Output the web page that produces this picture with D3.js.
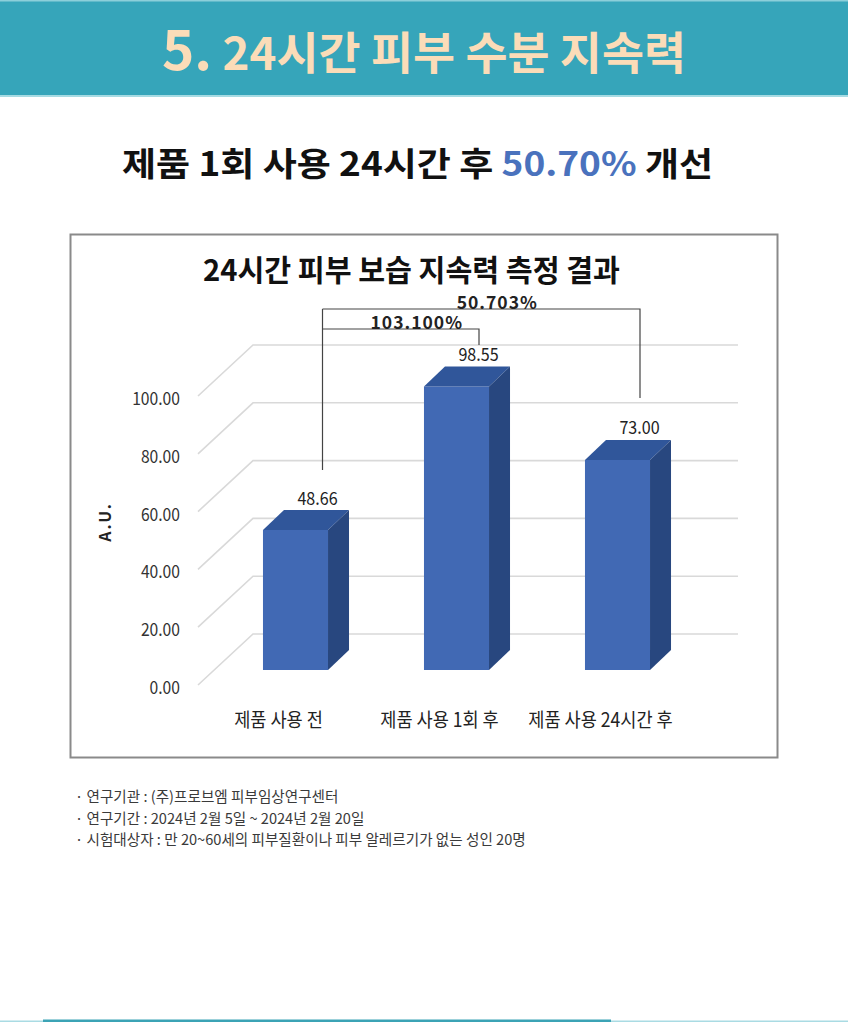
<!DOCTYPE html>
<html>
<head>
<meta charset="utf-8">
<script src="https://cdn.jsdelivr.net/npm/d3@7"></script>
<style>
  html, body { margin: 0; padding: 0; background: #fff; }
  svg { display: block; }
  text { font-family: "Noto Sans CJK KR", "Noto Sans", sans-serif; }
</style>
</head>
<body>
<svg id="chart" width="848" height="1022"></svg>
<script>
// ---------------- data ----------------
const categories = ["제품 사용 전", "제품 사용 1회 후", "제품 사용 24시간 후"];
const values = [48.66, 98.55, 73.00];
const yTicks = [0, 20, 40, 60, 80, 100];
const comparisonTargets = [1, 2];
const comparisonLabels = ["103.100%", "50.703%"];
const headerNumber = "5.";
const headerTitle = " 24시간 피부 수분 지속력";
const subtitleParts = ["제품 1회 사용 24시간 후 ", "50.70%", " 개선"];
const chartTitle = "24시간 피부 보습 지속력 측정 결과";
const yAxisTitle = "A.U.";
const footnotes = [
  "· 연구기관 : (주)프로브엠 피부임상연구센터",
  "· 연구기간 : 2024년 2월 5일 ~ 2024년 2월 20일",
  "· 시험대상자 : 만 20~60세의 피부질환이나 피부 알레르기가 없는 성인 20명"
];

// ---------------- helpers ----------------
function condense(sel, factor) {
  sel.each(function () {
    const w = this.getComputedTextLength();
    d3.select(this).attr("textLength", w * factor).attr("lengthAdjust", "spacingAndGlyphs");
  });
}

const svg = d3.select("#chart");

// ---------------- header band ----------------
svg.append("rect").attr("x", 0).attr("y", 0).attr("width", 848).attr("height", 96).attr("fill", "#36a5ba");
svg.append("rect").attr("x", 0).attr("y", 0).attr("width", 848).attr("height", 1.5).attr("fill", "#8ccfda");
svg.append("rect").attr("x", 0).attr("y", 95).attr("width", 848).attr("height", 2).attr("fill", "#a6dbe3");

const ht = svg.append("text")
  .attr("x", 424).attr("y", 70)
  .attr("text-anchor", "middle")
  .attr("fill", "#fbdcb8")
  .attr("font-weight", 700);
ht.append("tspan").attr("font-size", 54).text(headerNumber);
ht.append("tspan").attr("font-size", 45).text(headerTitle);
ht.attr("textLength", 524).attr("lengthAdjust", "spacingAndGlyphs");

// ---------------- subtitle ----------------
const st = svg.append("text")
  .attr("x", 417.5).attr("y", 176)
  .attr("text-anchor", "middle")
  .attr("font-size", 33)
  .attr("font-weight", 700)
  .attr("fill", "#111");
subtitleParts.forEach((p, i) => {
  st.append("tspan").attr("fill", i === 1 ? "#4a72bd" : "#111").text(p);
});
st.attr("textLength", 591).attr("lengthAdjust", "spacingAndGlyphs");

// ---------------- chart frame ----------------
svg.append("rect")
  .attr("x", 70.5).attr("y", 234.5).attr("width", 707).attr("height", 523)
  .attr("fill", "#fff").attr("stroke", "#8a8a8a").attr("stroke-width", 2);

svg.append("text")
  .attr("x", 411.5).attr("y", 281)
  .attr("text-anchor", "middle")
  .attr("font-size", 30)
  .attr("font-weight", 700)
  .attr("fill", "#111")
  .attr("textLength", 417).attr("lengthAdjust", "spacingAndGlyphs")
  .text(chartTitle);

// ---------------- scales ----------------
const x = d3.scaleBand().domain(categories).range([215, 698]).paddingInner(0.596).paddingOuter(0.298);
const yFront = d3.scaleLinear().domain([0, 100]).range([670, 382.3]);
const yBack = d3.scaleLinear().domain([0, 100]).range([634, 345]);
const depthX = 21, depthY = 20;
const wallLeft = 253, wallRight = 738, sideLeft = 198, sideDrop = 51;

// gridlines (back wall + side wall)
const grid = svg.append("g");
grid.selectAll("path").data(yTicks).join("path")
  .attr("d", t => `M${sideLeft},${yBack(t) + sideDrop}L${wallLeft},${yBack(t)}L${wallRight},${yBack(t)}`)
  .attr("fill", "none").attr("stroke", "#d9d9d9").attr("stroke-width", 1.6);

// y tick labels
const fmt = d3.format(".2f");
const yl = svg.append("g").selectAll("text").data(yTicks).join("text")
  .attr("x", 180).attr("y", t => yBack(t) + sideDrop + 1)
  .attr("text-anchor", "end")
  .attr("dominant-baseline", "central")
  .attr("font-size", 18)
  .attr("fill", "#333")
  .text(fmt);
condense(yl, 0.87);

// y axis title
svg.append("text")
  .attr("transform", "translate(104,522) rotate(-90)")
  .attr("text-anchor", "middle")
  .attr("dominant-baseline", "central")
  .attr("font-size", 16)
  .attr("font-weight", 700)
  .attr("letter-spacing", 2)
  .attr("fill", "#222")
  .text(yAxisTitle);

// ---------------- bars ----------------
const bw = x.bandwidth();
const bars = svg.append("g").selectAll("g").data(values).join("g");
bars.append("rect")
  .attr("x", (d, i) => x(categories[i]))
  .attr("y", d => yFront(d))
  .attr("width", bw)
  .attr("height", d => yFront(0) - yFront(d))
  .attr("fill", "#4169b4");
bars.append("path")
  .attr("d", (d, i) => {
    const x0 = x(categories[i]), yt = yFront(d);
    return `M${x0},${yt}L${x0 + depthX},${yt - depthY}L${x0 + bw + depthX},${yt - depthY}L${x0 + bw},${yt}Z`;
  })
  .attr("fill", "#30569a");
bars.append("path")
  .attr("d", (d, i) => {
    const x0 = x(categories[i]) + bw, yt = yFront(d), yb = yFront(0);
    return `M${x0},${yt}L${x0 + depthX},${yt - depthY}L${x0 + depthX},${yb - depthY}L${x0},${yb}Z`;
  })
  .attr("fill", "#28477f");

// value labels
const vl = svg.append("g").selectAll("text").data(values).join("text")
  .attr("x", (d, i) => x(categories[i]) + bw / 2 + 22)
  .attr("y", d => yFront(d) - depthY - 13)
  .attr("text-anchor", "middle")
  .attr("dominant-baseline", "central")
  .attr("font-size", 17.5)
  .attr("fill", "#222")
  .text(fmt);
condense(vl, 0.92);

// x category labels
const xl = svg.append("g").selectAll("text").data(categories).join("text")
  .attr("x", c => x(c) + bw / 2 - 17)
  .attr("y", 718)
  .attr("text-anchor", "middle")
  .attr("dominant-baseline", "central")
  .attr("font-size", 19.5)
  .attr("fill", "#222")
  .text(c => c);
condense(xl, 0.9);

// ---------------- comparison brackets ----------------
const br = svg.append("g");
const leftX = x(categories[0]) + bw / 2 + 27;
const leftBottom = yFront(values[0]) - 60;
const hYs = comparisonTargets.map((t, k) => 329 - k * 20);
const topY = d3.min(hYs);
br.append("line")
  .attr("x1", leftX).attr("x2", leftX).attr("y1", topY).attr("y2", leftBottom)
  .attr("stroke", "#444").attr("stroke-width", 1.2);
comparisonTargets.forEach((t, k) => {
  const hY = hYs[k];
  const rx = x(categories[t]) + bw / 2 + 22.5;
  const rb = Math.max(yFront(values[t]) - 62, hY + 16);
  br.append("path")
    .attr("d", `M${leftX},${hY}L${rx},${hY}L${rx},${rb}`)
    .attr("fill", "none").attr("stroke", "#444").attr("stroke-width", 1.2);
  br.append("text")
    .attr("x", (leftX + rx) / 2 + 16)
    .attr("y", hY - 8)
    .attr("text-anchor", "middle")
    .attr("dominant-baseline", "central")
    .attr("font-size", 17.5)
    .attr("font-weight", 700)
    .attr("letter-spacing", 1)
    .attr("fill", "#222")
    .text(comparisonLabels[k]);
});

// ---------------- footnotes ----------------
svg.append("g").selectAll("text").data(footnotes).join("text")
  .attr("x", 75)
  .attr("y", (d, i) => 802 + i * 21.5)
  .attr("font-size", 14.6)
  .attr("fill", "#3a3a3a")
  .text(d => d);

// ---------------- bottom decoration ----------------
svg.append("rect").attr("x", 0).attr("y", 1020.5).attr("width", 848).attr("height", 1.5).attr("fill", "#a9dbe3");
svg.append("rect").attr("x", 43).attr("y", 1019.5).attr("width", 568).attr("height", 2.5).attr("fill", "#3ba3b5");
</script>
</body>
</html>
